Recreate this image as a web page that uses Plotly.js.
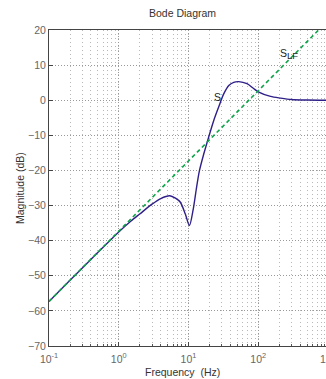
<!DOCTYPE html>
<html>
<head>
<meta charset="utf-8">
<script src="https://cdn.plot.ly/plotly-3.0.1.min.js"></script>
<style>html,body{margin:0;padding:0;overflow:hidden;background:#fff;}#plot{width:340px;height:379px;}</style>
</head>
<body>
<div id="plot"></div>
<script>
// Sensitivity function S
const freqS = [0.1, 0.2, 0.5, 1.0, 1.5, 2.0, 3.0, 4.0, 5.4, 6.5, 7.6, 9.0, 10.3, 11.7, 12.9, 14.3, 16.5, 19.4, 22.9, 27, 32, 37.8, 44.5, 52.5, 69, 85, 100, 150, 210, 300, 500, 1000];
const magS  = [-57.3, -51.3, -43.4, -37.5, -34.4, -32.4, -29.6, -28.0, -27.2, -27.9, -29.0, -32.4, -35.7, -31.0, -25.5, -20.2, -15.4, -10.6, -5.9, -2.0, 1.8, 4.2, 5.1, 5.3, 4.7, 3.4, 2.4, 1.1, 0.6, 0.2, 0.05, 0.0];
// Low-frequency asymptote S_LF
const freqLF = [0.1, 1, 10, 100, 1000];
const magLF  = [-57.3, -37.3, -17.3, 2.7, 22.7];
const xTickVals = [0.1, 1, 10, 100, 1000];
const xTickText = ['10<sup>-1</sup>', '10<sup>0</sup>', '10<sup>1</sup>', '10<sup>2</sup>', '10<sup>3</sup>'];
const yTickVals = [-70, -60, -50, -40, -30, -20, -10, 0, 10, 20];

const font = {family: 'Liberation Sans, Arial, sans-serif', size: 10.5, color: '#333'};
const traces = [
  {x: freqS, y: magS, mode: 'lines', line: {color: '#2e2088', width: 1.4, shape: 'spline', smoothing: 0.8}, hoverinfo: 'skip'},
  {x: freqLF, y: magLF, mode: 'lines', line: {color: '#0fa34a', width: 1.6, dash: '4px,3px'}, hoverinfo: 'skip'}
];
const layout = {
  width: 340, height: 379,
  margin: {l: 49, r: 12, t: 30, b: 33},
  showlegend: false,
  paper_bgcolor: '#fff', plot_bgcolor: '#fff',
  font: font,
  xaxis: {
    type: 'log', range: [-1, 3],
    tickvals: xTickVals, ticktext: xTickText,
    ticks: 'inside', ticklen: 4, tickcolor: '#444', ticklabelstandoff: 3,
    showline: true, linecolor: '#444', linewidth: 1, mirror: true,
    showgrid: true, gridcolor: '#999', griddash: '1px,2px', gridwidth: 1,
    minor: {dtick: 'D1', showgrid: true, gridcolor: '#b8b8b8', griddash: '1px,3px', gridwidth: 1, ticks: 'inside', ticklen: 2, tickcolor: '#555'},
    tickfont: {size: 10.5, color: '#666'},
    zeroline: false
  },
  yaxis: {
    range: [-70, 20], tickvals: yTickVals,
    ticks: 'inside', ticklen: 4, tickcolor: '#444',
    showline: true, linecolor: '#444', linewidth: 1, mirror: true,
    showgrid: true, gridcolor: '#999', griddash: '1px,2px', gridwidth: 1,
    tickfont: {size: 10.5, color: '#666'},
    zeroline: false
  },
  annotations: [
    {text: 'Bode Diagram', xref: 'paper', yref: 'paper', x: 0.48, y: 1, yanchor: 'middle', yshift: 17, showarrow: false, font: {size: 10.5, color: '#333'}},
    {text: 'Frequency  (Hz)', xref: 'paper', yref: 'paper', x: 0.48, y: 0, yanchor: 'middle', yshift: -25.5, showarrow: false, font: {size: 10.5, color: '#333'}},
    {text: 'Magnitude (dB)', xref: 'paper', yref: 'paper', x: 0, y: 0.5, xanchor: 'center', yanchor: 'middle', xshift: -29, textangle: -90, showarrow: false, font: {size: 10.5, color: '#333'}},
    {text: 'S', x: Math.log10(26), y: 0.8, xref: 'x', yref: 'y', showarrow: false, font: {size: 10.5, color: '#222'}},
    {text: 'S<sub><span style="font-size:9.5px">LF</span></sub>', x: Math.log10(275), y: 13.2, xref: 'x', yref: 'y', showarrow: false, font: {size: 10.5, color: '#222'}}
  ]
};
Plotly.newPlot('plot', traces, layout, {staticPlot: true, displayModeBar: false});
</script>
</body>
</html>
